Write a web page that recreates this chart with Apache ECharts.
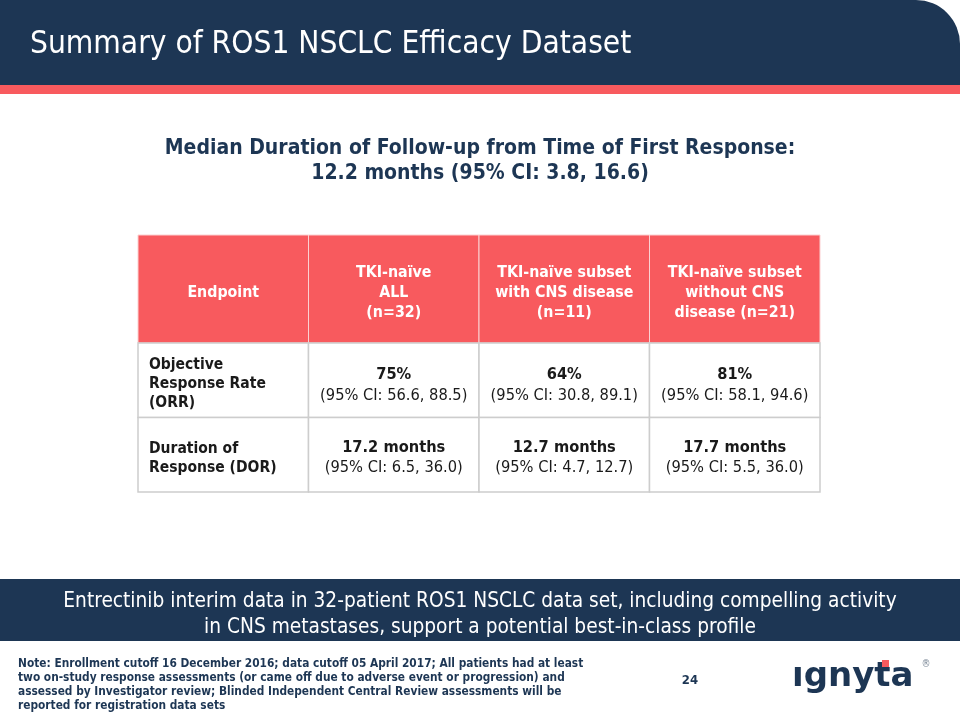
<!DOCTYPE html>
<html>
<head>
<meta charset="utf-8">
<script src="https://cdn.jsdelivr.net/npm/echarts@6/dist/echarts.min.js"></script>
<style>html,body{margin:0;padding:0;background:#fff}#c{width:960px;height:720px}</style>
</head>
<body>
<div id="c"></div>
<script>
// ---- data ----
const slideTitle = 'Summary of ROS1 NSCLC Efficacy Dataset';
const subtitleLines = ['Median Duration of Follow-up from Time of First Response:', '12.2 months (95% CI: 3.8, 16.6)'];
const columnHeaders = ['Endpoint', 'TKI-naïve\nALL\n(n=32)', 'TKI-naïve subset\nwith CNS disease\n(n=11)', 'TKI-naïve subset\nwithout CNS\ndisease (n=21)'];
const endpoints = ['Objective\nResponse Rate\n(ORR)', 'Duration of\nResponse (DOR)'];
const orrValues = ['75%', '64%', '81%'];
const orrCI = ['(95% CI: 56.6, 88.5)', '(95% CI: 30.8, 89.1)', '(95% CI: 58.1, 94.6)'];
const dorValues = ['17.2 months', '12.7 months', '17.7 months'];
const dorCI = ['(95% CI: 6.5, 36.0)', '(95% CI: 4.7, 12.7)', '(95% CI: 5.5, 36.0)'];
const bannerLines = ['Entrectinib interim data in 32-patient ROS1 NSCLC data set, including compelling activity', 'in CNS metastases, support a potential best-in-class profile'];
const footnoteLines = ['Note: Enrollment cutoff 16 December 2016; data cutoff 05 April 2017; All patients had at least', 'two on-study response assessments (or came off due to adverse event or progression) and', 'assessed by Investigator review; Blinded Independent Central Review assessments will be', 'reported for registration data sets'];
const pageNumber = '24';
const logoText = 'ıgnyta';

// ---- styles ----
const FONT = '"DejaVu Sans Condensed", "DejaVu Sans", sans-serif';
const NAVY = '#1d3654';
const RED = '#f85a5e';
const GRID_LINE = '#cdcdcd';
const BODY_TEXT = '#1a1a1a';

const chart = echarts.init(document.getElementById('c'), null, {renderer: 'canvas'});

const rowValues = [orrValues, dorValues];
const rowCIs = [orrCI, dorCI];

const headerData = columnHeaders.map((h, i) => [i, 0]);
const bodyData = [];
endpoints.forEach((e, r) => { for (let c = 0; c < columnHeaders.length; c++) bodyData.push([c, r]); });

function headerItem(params, api) {
  const ci = api.value(0);
  const pt = api.coord([ci, api.value(1)]);
  const sz = api.size([1, 1]);
  return {
    type: 'group',
    children: [
      {type: 'rect', shape: {x: pt[0] - sz[0] / 2, y: pt[1] - sz[1] / 2, width: sz[0], height: sz[1]},
       style: {fill: RED, stroke: '#fbd0d1', lineWidth: 1}},
      {type: 'text', x: pt[0], y: pt[1] + 3.5,
       style: {text: columnHeaders[ci], fill: '#ffffff', font: 'bold 15.8px ' + FONT,
               align: 'center', verticalAlign: 'middle', lineHeight: 20}}
    ]
  };
}

function bodyItem(params, api) {
  const c = api.value(0), r = api.value(1);
  const pt = api.coord([c, r]);
  const sz = api.size([1, 1]);
  const children = [
    {type: 'rect', shape: {x: pt[0] - sz[0] / 2, y: pt[1] - sz[1] / 2, width: sz[0], height: sz[1]},
     style: {fill: '#ffffff', stroke: GRID_LINE, lineWidth: 1.5}}
  ];
  if (c === 0) {
    children.push({type: 'text', x: pt[0] - sz[0] / 2 + 11, y: pt[1] + 4,
      style: {text: endpoints[r], fill: BODY_TEXT, font: 'bold 15.5px ' + FONT,
              align: 'left', verticalAlign: 'middle', lineHeight: 19}});
  } else {
    children.push({type: 'text', x: pt[0], y: pt[1] + (r === 0 ? 5 : 3),
      style: {text: '{b|' + rowValues[r][c - 1] + '}\n{n|' + rowCIs[r][c - 1] + '}',
              align: 'center', verticalAlign: 'middle',
              rich: {
                b: {font: 'bold 16.3px ' + FONT, fill: BODY_TEXT, lineHeight: 20.5, align: 'center'},
                n: {font: '16.3px ' + FONT, fill: BODY_TEXT, lineHeight: 20.5, align: 'center'}
              }}});
  }
  return {type: 'group', children: children};
}

const colIdx = columnHeaders.map((h, i) => i);

const graphics = [
  // header band
  {type: 'rect', shape: {x: 0, y: 0, width: 960, height: 86, r: [0, 44, 0, 0]}, style: {fill: NAVY}, z: 1},
  {type: 'rect', shape: {x: 0, y: 85, width: 960, height: 9}, style: {fill: RED}, z: 2},
  {type: 'text', x: 30, y: 45, style: {text: slideTitle, fill: '#ffffff', font: '31.4px ' + FONT, verticalAlign: 'middle'}, z: 3},
  // subtitle
  {type: 'text', x: 480, y: 161, style: {text: subtitleLines.join('\n'), fill: NAVY, font: 'bold 21px ' + FONT,
    align: 'center', verticalAlign: 'middle', lineHeight: 25.5}, z: 3},
  // banner
  {type: 'rect', shape: {x: 0, y: 579, width: 960, height: 62}, style: {fill: NAVY}, z: 1},
  {type: 'text', x: 480, y: 615, style: {text: bannerLines.join('\n'), fill: '#ffffff', font: '20.7px ' + FONT,
    align: 'center', verticalAlign: 'middle', lineHeight: 26}, z: 3},
  // footnote
  {type: 'text', x: 18, y: 685, style: {text: footnoteLines.join('\n'), fill: NAVY, font: 'bold 11.8px ' + FONT,
    align: 'left', verticalAlign: 'middle', lineHeight: 14}, z: 3},
  {type: 'text', x: 690, y: 681, style: {text: pageNumber, fill: NAVY, font: 'bold 13px ' + FONT,
    align: 'center', verticalAlign: 'middle'}, z: 3},
  // logo
  {type: 'text', x: 792, y: 677, style: {text: logoText, fill: NAVY, font: 'bold 34px "DejaVu Sans", sans-serif',
    align: 'left', verticalAlign: 'middle', letterSpacing: 2.5}, z: 3},
  {type: 'rect', shape: {x: 882, y: 660, width: 7, height: 7}, style: {fill: RED}, z: 4},
  {type: 'text', x: 926, y: 664, style: {text: '®', fill: '#7a8796', font: '10px ' + FONT,
    align: 'center', verticalAlign: 'middle'}, z: 3}
];

chart.setOption({
  animation: false,
  backgroundColor: '#ffffff',
  grid: [
    {left: 138, top: 235, width: 682, height: 108},
    {left: 138, top: 343, width: 682, height: 149}
  ],
  xAxis: [
    {type: 'category', gridIndex: 0, data: colIdx, show: false},
    {type: 'category', gridIndex: 1, data: colIdx, show: false}
  ],
  yAxis: [
    {type: 'category', gridIndex: 0, data: ['header'], show: false},
    {type: 'category', gridIndex: 1, data: ['ORR', 'DOR'], inverse: true, show: false}
  ],
  series: [
    {type: 'custom', xAxisIndex: 0, yAxisIndex: 0, data: headerData, renderItem: headerItem, silent: true},
    {type: 'custom', xAxisIndex: 1, yAxisIndex: 1, data: bodyData, renderItem: bodyItem, silent: true}
  ],
  graphic: graphics
});
</script>
</body>
</html>
